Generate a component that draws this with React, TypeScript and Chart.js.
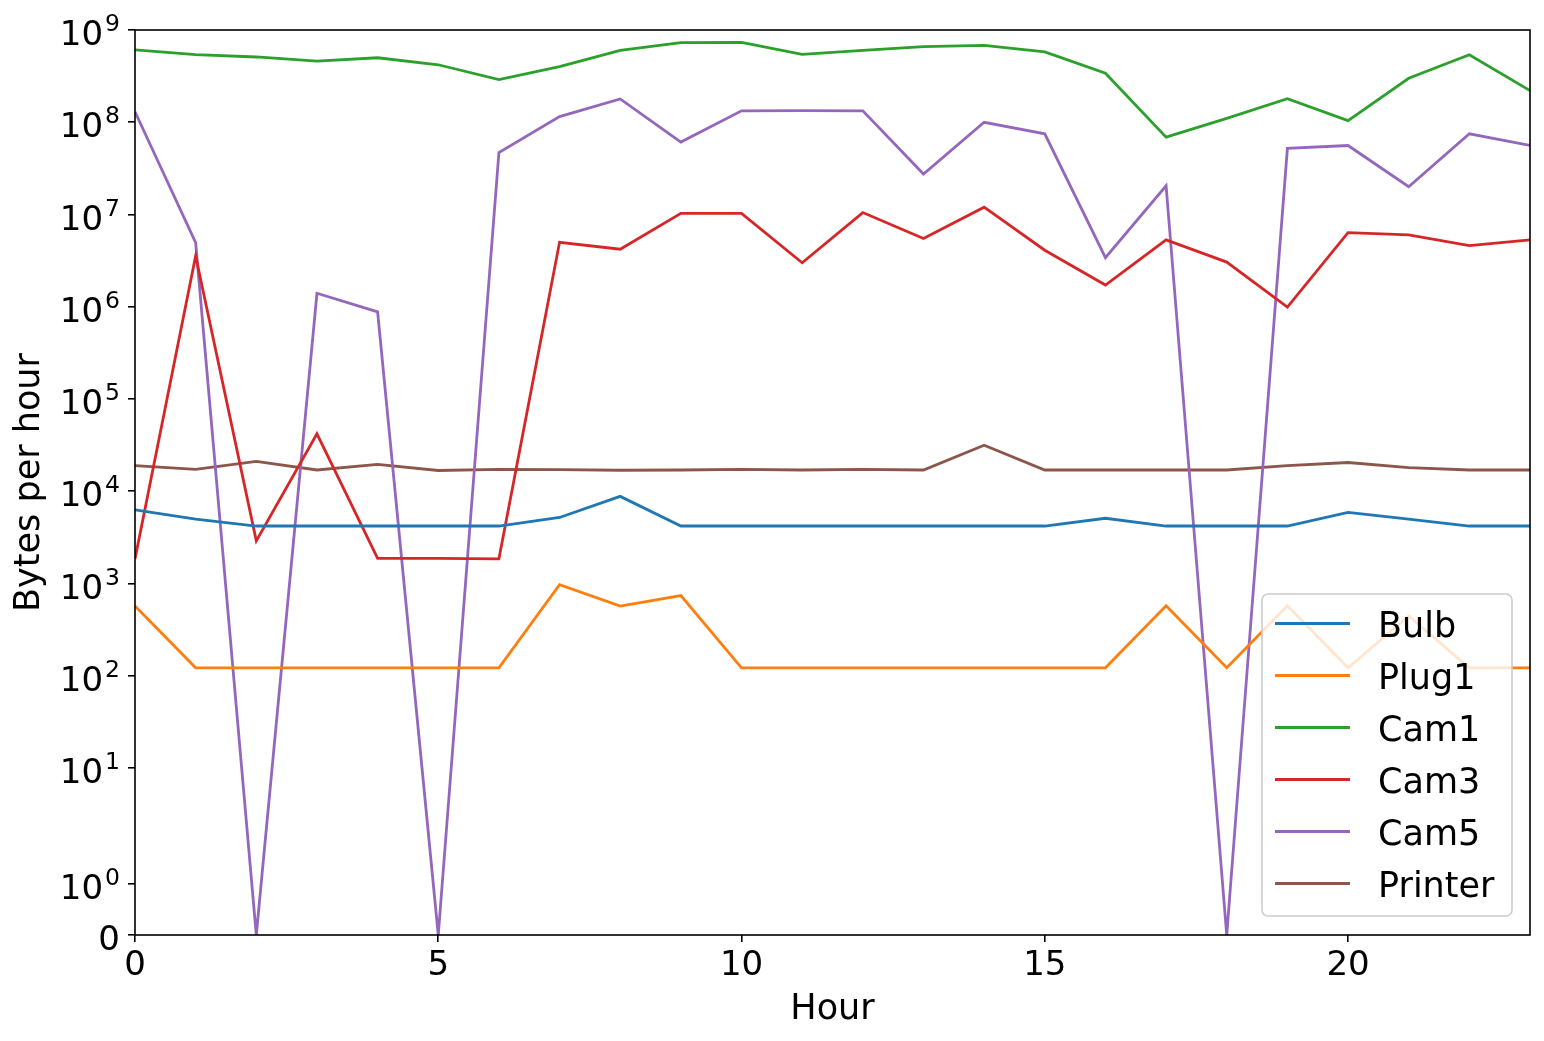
import { useEffect, useRef } from 'react';
import { Chart, registerables, LinearScale } from 'chart.js';

const hours = [0, 1, 2, 3, 4, 5, 6, 7, 8, 9, 10, 11, 12, 13, 14, 15, 16, 17, 18, 19, 20, 21, 22, 23];

const bulb = [6300, 5000, 4200, 4200, 4200, 4200, 4200, 5200, 8800, 4200, 4200, 4200, 4200, 4200, 4200, 4200, 5100, 4200, 4200, 4200, 5900, 5000, 4200, 4200];
const plug1 = [570, 122, 122, 122, 122, 122, 122, 970, 570, 740, 122, 122, 122, 122, 122, 122, 122, 575, 122, 575, 122, 444, 122, 122];
const cam1 = [6.1e8, 5.4e8, 5.1e8, 4.6e8, 5.0e8, 4.2e8, 2.9e8, 4.0e8, 6.0e8, 7.3e8, 7.35e8, 5.45e8, 6.0e8, 6.6e8, 6.8e8, 5.8e8, 3.4e8, 6.9e7, 1.1e8, 1.8e8, 1.04e8, 3.0e8, 5.4e8, 2.2e8];
const cam3 = [1.85e3, 3.55e6, 2.9e3, 4.2e4, 1.87e3, 1.87e3, 1.85e3, 5.0e6, 4.2e6, 1.03e7, 1.03e7, 3.0e6, 1.05e7, 5.5e6, 1.2e7, 4.1e6, 1.72e6, 5.3e6, 3.05e6, 9.9e5, 6.35e6, 6.0e6, 4.6e6, 5.3e6];
const cam5 = [1.3e8, 4.96e6, 0, 1.4e6, 8.8e5, 0, 4.7e7, 1.15e8, 1.79e8, 6.1e7, 1.33e8, 1.34e8, 1.33e8, 2.75e7, 1.0e8, 7.5e7, 3.4e6, 2.05e7, 0, 5.2e7, 5.6e7, 2.0e7, 7.5e7, 5.6e7];
const printer = [1.9e4, 1.73e4, 2.11e4, 1.7e4, 1.96e4, 1.68e4, 1.73e4, 1.72e4, 1.69e4, 1.7e4, 1.73e4, 1.7e4, 1.73e4, 1.7e4, 3.15e4, 1.7e4, 1.7e4, 1.7e4, 1.7e4, 1.9e4, 2.05e4, 1.8e4, 1.7e4, 1.7e4];

const seriesNames = ['Bulb', 'Plug1', 'Cam1', 'Cam3', 'Cam5', 'Printer'];
const seriesValues = [bulb, plug1, cam1, cam3, cam5, printer];
const seriesColors = ['#1f77b4', '#ff7f0e', '#2ca02c', '#d62728', '#9467bd', '#8c564b'];

const xTicks = [0, 5, 10, 15, 20];
const yTicks = [0, 1e0, 1e1, 1e2, 1e3, 1e4, 1e5, 1e6, 1e7, 1e8, 1e9];

const FONT = '"DejaVu Sans", sans-serif';

// matplotlib-style symlog, linthresh = 2, linscale = 1, base 10
const LINTHRESH = 2;
const LINSCALE_ADJ = 1 / (1 - 1 / 10);
function symlog(v: number) {
  const a = Math.abs(v);
  const s = Math.sign(v);
  if (a <= LINTHRESH) return v * LINSCALE_ADJ / LINTHRESH;
  return s * (LINSCALE_ADJ + Math.log10(a / LINTHRESH));
}
function symexp(t: number) {
  const a = Math.abs(t);
  const s = Math.sign(t);
  if (a <= LINSCALE_ADJ) return t * LINTHRESH / LINSCALE_ADJ;
  return s * LINTHRESH * Math.pow(10, a - LINSCALE_ADJ);
}

class SymlogScale extends LinearScale {
  static id = 'symlog';
  static defaults = LinearScale.defaults;

  getPixelForValue(value: number) {
    const lo = symlog(this.min);
    const hi = symlog(this.max);
    return this.getPixelForDecimal((symlog(value) - lo) / (hi - lo));
  }

  getValueForPixel(pixel: number) {
    const lo = symlog(this.min);
    const hi = symlog(this.max);
    return symexp(lo + this.getDecimalForPixel(pixel) * (hi - lo));
  }
}

Chart.register(...registerables, SymlogScale);

const frameLabelsLegend = {
  id: 'frameLabelsLegend',
  afterDatasetsDraw(chart: any) {
    const { ctx, chartArea: a } = chart;
    const y = chart.scales.y;
    ctx.save();

    // spines
    ctx.strokeStyle = '#000';
    ctx.lineWidth = 1.6;
    ctx.strokeRect(a.left, a.top, a.right - a.left, a.bottom - a.top);

    // y tick labels with superscript exponents
    ctx.fillStyle = '#000';
    ctx.textAlign = 'right';
    ctx.textBaseline = 'alphabetic';
    const labelRight = a.left - 15;
    y.ticks.forEach((t: any) => {
      const py = y.getPixelForValue(t.value);
      if (t.value === 0) {
        ctx.font = `34px ${FONT}`;
        ctx.fillText('0', labelRight, py + 15);
        return;
      }
      const exp = String(Math.round(Math.log10(t.value)));
      ctx.font = `23.5px ${FONT}`;
      const w = ctx.measureText(exp).width;
      ctx.fillText(exp, labelRight, py + 1);
      ctx.font = `34px ${FONT}`;
      ctx.fillText('10', labelRight - w - 2, py + 15);
    });

    // legend box, lower right
    const boxW = 250;
    const boxH = 322;
    const bx = a.right - 18 - boxW;
    const by = a.bottom - 19 - boxH;
    ctx.beginPath();
    ctx.roundRect(bx, by, boxW, boxH, 6);
    ctx.fillStyle = 'rgba(255,255,255,0.8)';
    ctx.fill();
    ctx.strokeStyle = '#cccccc';
    ctx.lineWidth = 1.6;
    ctx.stroke();

    ctx.textAlign = 'left';
    ctx.font = `35px ${FONT}`;
    chart.data.datasets.forEach((ds: any, i: number) => {
      const ry = by + 29.5 + i * 52;
      ctx.beginPath();
      ctx.moveTo(bx + 13, ry);
      ctx.lineTo(bx + 88, ry);
      ctx.strokeStyle = ds.borderColor;
      ctx.lineWidth = 2.8;
      ctx.stroke();
      ctx.fillStyle = '#000';
      ctx.fillText(ds.label, bx + 116, ry + 13);
    });

    ctx.restore();
  },
};

function App() {
  const chartRef = useRef<HTMLCanvasElement>(null);
  const chartInstance = useRef<Chart | null>(null);

  useEffect(() => {
    if (!chartRef.current) return;
    const ctx = chartRef.current.getContext('2d');
    if (!ctx) return;
    if (chartInstance.current) chartInstance.current.destroy();

    Chart.defaults.font.family = FONT;
    Chart.defaults.color = '#000';

    chartInstance.current = new Chart(ctx, {
      type: 'line',
      data: {
        datasets: seriesNames.map((name, i) => ({
          label: name,
          data: hours.map((h, j) => ({ x: h, y: seriesValues[i][j] })),
          borderColor: seriesColors[i],
          backgroundColor: seriesColors[i],
          borderWidth: 2.8,
          pointRadius: 0,
          tension: 0,
          fill: false,
        })),
      },
      options: {
        animation: false,
        responsive: true,
        maintainAspectRatio: false,
        events: [],
        layout: { padding: { top: 30, right: 14, left: 0, bottom: 0 } },
        plugins: {
          legend: { display: false },
          tooltip: { enabled: false },
        },
        scales: {
          x: {
            type: 'linear',
            min: 0,
            max: 23,
            afterBuildTicks: (scale: any) => {
              scale.ticks = xTicks.map((v) => ({ value: v }));
            },
            afterFit: (scale: any) => {
              scale.height = 106;
            },
            grid: {
              display: true,
              drawOnChartArea: false,
              drawTicks: true,
              tickLength: 7,
              color: '#000',
              lineWidth: 1.6,
            },
            border: { display: false },
            ticks: {
              font: { size: 34 },
              color: '#000',
              padding: 4,
              maxRotation: 0,
              autoSkip: false,
            },
            title: {
              display: true,
              text: 'Hour',
              font: { size: 35 },
              color: '#000',
              padding: { top: 0, bottom: 10 },
            },
          },
          y: {
            type: 'symlog' as any,
            min: 0,
            max: 1e9,
            afterBuildTicks: (scale: any) => {
              scale.ticks = yTicks.map((v) => ({ value: v }));
            },
            afterFit: (scale: any) => {
              scale.width = 135;
            },
            grid: {
              display: true,
              drawOnChartArea: false,
              drawTicks: true,
              tickLength: 7,
              color: '#000',
              lineWidth: 1.6,
            },
            border: { display: false },
            ticks: { display: false, autoSkip: false },
            title: {
              display: true,
              text: 'Bytes per hour',
              font: { size: 35 },
              color: '#000',
              padding: { top: 9, bottom: 0 },
            },
          },
        },
      },
      plugins: [frameLabelsLegend],
    });

    return () => {
      if (chartInstance.current) {
        chartInstance.current.destroy();
        chartInstance.current = null;
      }
    };
  }, []);

  return (
    <div style={{ position: 'fixed', left: 0, top: 0, width: 1544, height: 1041, background: '#fff' }}>
      <canvas ref={chartRef}></canvas>
    </div>
  );
}

export default App;
